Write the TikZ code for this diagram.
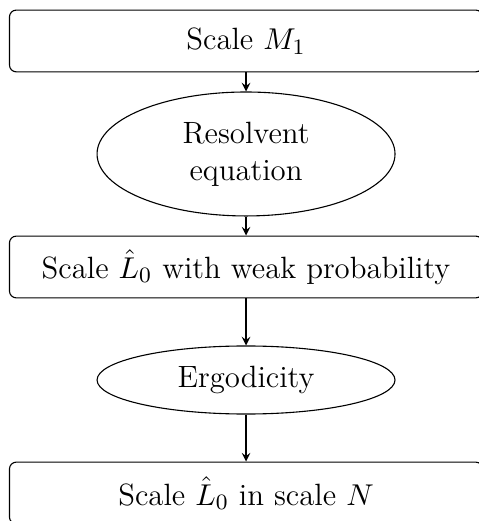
\documentclass[tikz,border=0pt]{standalone}
\usepackage{amsmath, amssymb}
\usepackage{tikz}
\usetikzlibrary{arrows}
\usetikzlibrary{shapes}
\tikzstyle{scalebox}=[draw, rounded corners=2.5pt, minimum width=6.05cm, minimum height=0.79cm]
\tikzstyle{toolellipse}=[draw, ellipse, minimum width=3.81cm, align=center]
\tikzstyle{flowarrow}=[-stealth]

\begin{document}
\begin{tikzpicture}[font=\fontsize{11.2}{13.5}\selectfont]
		\useasboundingbox (-3.146,0.524) rectangle (2.967,-6.138);
		\node[scalebox] (scaleM) at (0,0) {Scale $M_1$};
		\node[toolellipse, minimum height=1.585cm] (resolvent) at (0,-1.445) {Resolvent\\equation};
		\node[scalebox] (scaleweak) at (0,-2.89) {Scale $\hat{L}_0$ with weak probability};
		\node[toolellipse, minimum height=0.87cm] (ergodic) at (0,-4.335) {Ergodicity};
		\node[scalebox] (scaleN) at (0,-5.78) {Scale $\hat{L}_0$ in scale $N$};
		\draw[flowarrow] (scaleM) -- (resolvent);
		\draw[flowarrow] (resolvent) -- (scaleweak);
		\draw[flowarrow] (scaleweak) -- (ergodic);
		\draw[flowarrow] (ergodic) -- (scaleN);
	\end{tikzpicture}
\end{document}
